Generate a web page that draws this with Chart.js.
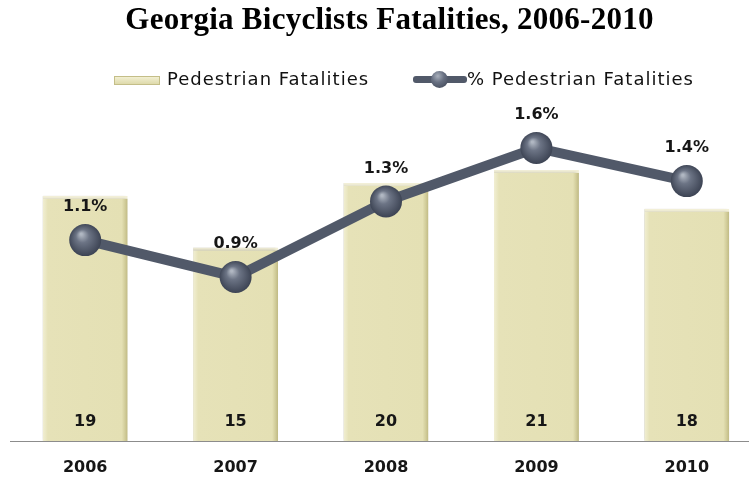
<!DOCTYPE html>
<html>
<head>
<meta charset="utf-8">
<script src="https://cdn.jsdelivr.net/npm/chart.js@4/dist/chart.umd.min.js"></script>
<style>
    body { margin: 0; background: #fff; overflow: hidden; }
    #wrap { position: relative; width: 749px; height: 478px; overflow: hidden; }
    #chart { position: absolute; left: 0; top: 0; }
    .title {
        position: absolute; left: 0; top: 3px; width: 779px; text-align: center;
        font: bold 31px/31px "Liberation Serif", serif; letter-spacing: 0.25px; color: #000;
    }
    .leg-text {
        position: absolute; top: 69px; font: 18px/20px "DejaVu Sans", sans-serif;
        letter-spacing: 1px; color: #111; white-space: nowrap;
    }
    .leg-swatch {
        position: absolute; left: 114px; top: 76px; width: 44px; height: 7px;
        background: linear-gradient(to bottom, #f2efd2, #dedaab);
        border: 1px solid #c4be88;
    }
    .leg-line {
        position: absolute; left: 413px; top: 76px; width: 54px; height: 7px;
        background: #515969; border-radius: 3px;
    }
    .leg-dot {
        position: absolute; left: 431px; top: 71px; width: 17px; height: 17px; border-radius: 50%;
        background: radial-gradient(circle at 40% 30%, #a9b0bc 0%, #687082 40%, #3a4150 100%);
    }
</style>
</head>
<body>
<div id="wrap">
    <canvas id="chart" width="762" height="478"></canvas>
    <div class="title">Georgia Bicyclists Fatalities, 2006-2010</div>
    <div class="leg-swatch"></div>
    <div class="leg-text" style="left:167px">Pedestrian Fatalities</div>
    <div class="leg-line"></div>
    <div class="leg-dot"></div>
    <div class="leg-text" style="left:467px">% Pedestrian Fatalities</div>
</div>
<script>
const YEARS       = ['2006', '2007', '2008', '2009', '2010'];
const FATALITIES  = [19, 15, 20, 21, 18];
const PCT_FATAL   = [1.09, 0.89, 1.30, 1.59, 1.41];

const LINE_COLOR  = '#515969';
const LABEL_FONT  = 'bold 16px "DejaVu Sans", sans-serif';

// ── Bar fill: flat beige with bevelled sides ─────────────────
function barFill(ctx) {
    const chart = ctx.chart;
    if (!chart.chartArea || !chart.scales.x) return '#e6e2b8';
    const cx = chart.scales.x.getPixelForValue(ctx.dataIndex);
    const half = 42.5;
    const g = chart.ctx.createLinearGradient(cx - half, 0, cx + half, 0);
    g.addColorStop(0,     '#f1eed3');
    g.addColorStop(0.035, '#ebe8c4');
    g.addColorStop(0.06,  '#e6e2b8');
    g.addColorStop(0.93,  '#e4e0b4');
    g.addColorStop(0.965, '#d3ce9c');
    g.addColorStop(1,     '#bfb983');
    return g;
}

// ── Point fill: shaded sphere ────────────────────────────────
function dotFill(ctx) {
    const chart = ctx.chart;
    if (!chart.chartArea || !chart.scales.y1) return '#4d5565';
    const x = chart.scales.x.getPixelForValue(ctx.dataIndex);
    const y = chart.scales.y1.getPixelForValue(PCT_FATAL[ctx.dataIndex]);
    const g = chart.ctx.createRadialGradient(x - 4, y - 6, 1, x, y, 17);
    g.addColorStop(0,    '#b0b7c2');
    g.addColorStop(0.35, '#6c7485');
    g.addColorStop(1,    '#394050');
    return g;
}

// ── Soft shadow behind the bars ──────────────────────────────
const barShadow = {
    id: 'barShadow',
    beforeDatasetDraw(chart, args) {
        if (args.index !== 0) return;
        const c = chart.ctx;
        c.save();
        c.shadowColor = 'rgba(0, 0, 0, 0.22)';
        c.shadowBlur = 3;
        c.shadowOffsetX = -2;
        c.shadowOffsetY = 0;
    },
    afterDatasetDraw(chart, args) {
        if (args.index === 0) chart.ctx.restore();
    }
};

// ── Baseline + year labels (x axis kept out of the layout) ───
const baseAxis = {
    id: 'baseAxis',
    beforeDatasetsDraw(chart) {
        const c = chart.ctx;
        const y = Math.round(chart.scales.y.getPixelForValue(0)) + 0.5;
        c.save();
        c.strokeStyle = '#8c8c8c';
        c.lineWidth = 1;
        c.beginPath();
        c.moveTo(chart.chartArea.left, y);
        c.lineTo(chart.chartArea.right, y);
        c.stroke();
        c.font = LABEL_FONT;
        c.fillStyle = '#161616';
        c.textAlign = 'center';
        c.textBaseline = 'middle';
        YEARS.forEach((yr, i) => {
            c.fillText(yr, chart.scales.x.getPixelForValue(i), y + 26);
        });
        c.restore();
    }
};

// ── Value labels ─────────────────────────────────────────────
const valueLabels = {
    id: 'valueLabels',
    afterDatasetsDraw(chart) {
        const c = chart.ctx;
        const base = chart.scales.y.getPixelForValue(0);
        c.save();
        c.font = LABEL_FONT;
        c.fillStyle = '#161616';
        c.textAlign = 'center';
        c.textBaseline = 'middle';
        chart.getDatasetMeta(0).data.forEach((bar, i) => {
            c.fillText(String(FATALITIES[i]), bar.x, base - 19);
        });
        chart.getDatasetMeta(1).data.forEach((pt, i) => {
            c.fillText(PCT_FATAL[i].toFixed(1) + '%', pt.x, pt.y - 33);
        });
        c.restore();
    }
};

new Chart(document.getElementById('chart').getContext('2d'), {
    data: {
        labels: YEARS,
        datasets: [
            {
                type: 'bar',
                label: 'Pedestrian Fatalities',
                data: FATALITIES,
                yAxisID: 'y',
                backgroundColor: barFill,
                borderColor: '#f3f0d8',
                borderWidth: { top: 3, left: 0, right: 0, bottom: 0 },
                borderSkipped: 'start',
                barPercentage: 0.565,
                categoryPercentage: 1,
                order: 2
            },
            {
                type: 'line',
                label: '% Pedestrian Fatalities',
                data: PCT_FATAL,
                yAxisID: 'y1',
                borderColor: LINE_COLOR,
                borderWidth: 10,
                tension: 0,
                pointRadius: 16,
                pointHoverRadius: 16,
                pointBorderWidth: 0,
                pointBackgroundColor: dotFill,
                order: 1
            }
        ]
    },
    options: {
        responsive: false,
        animation: false,
        layout: { autoPadding: false, padding: { left: 10, top: 100, right: 0, bottom: 37 } },
        plugins: {
            legend: { display: false },
            title: { display: false },
            tooltip: { enabled: false }
        },
        scales: {
            x:  { display: false },
            y:  { display: false, min: 0, max: 26.43 },
            y1: { display: false, min: 0, max: 1.85, position: 'right' }
        }
    },
    plugins: [barShadow, baseAxis, valueLabels]
});
</script>
</body>
</html>
